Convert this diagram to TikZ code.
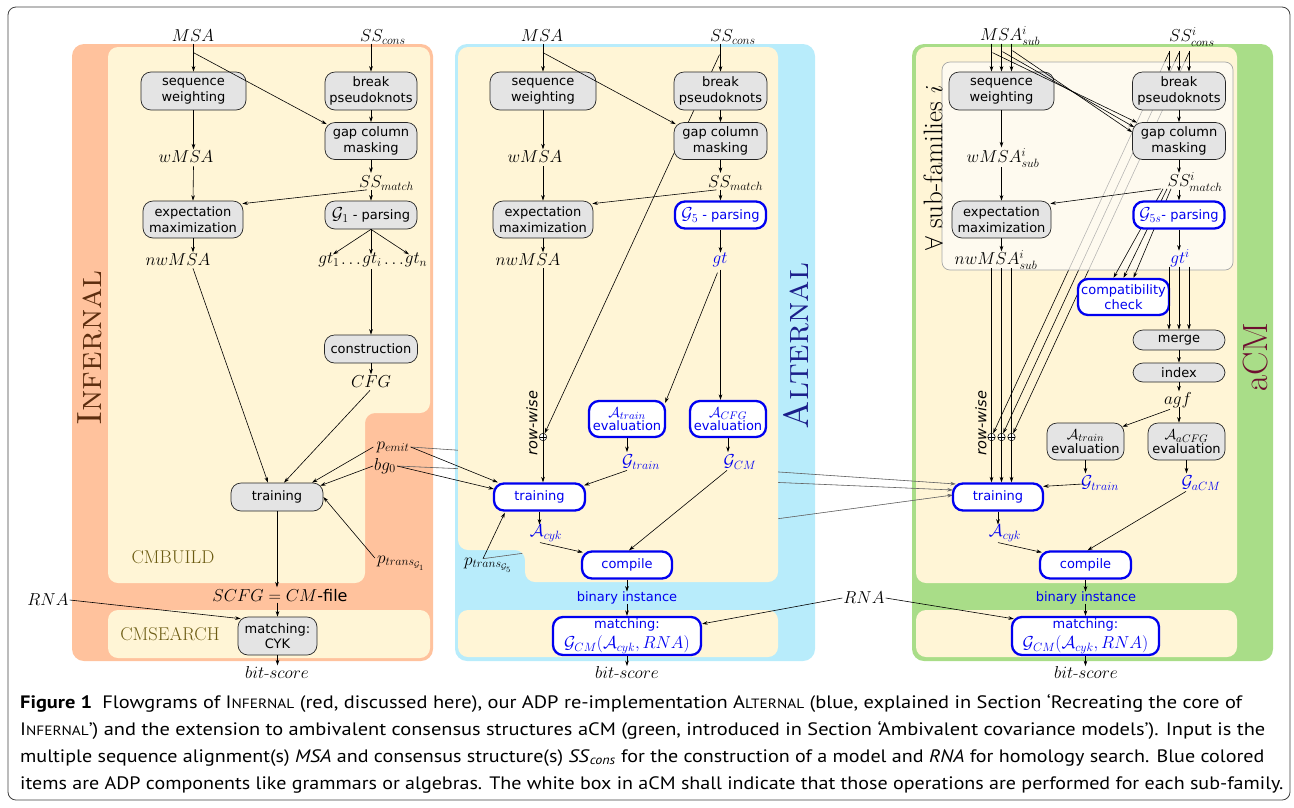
\documentclass[tikz,border=0pt]{standalone}
\usepackage{fontspec}
\usepackage{graphicx}
\usetikzlibrary{arrows.meta,calc}
\newfontfamily\boxfont{DejaVu Sans}
\newfontfamily\capfont{PT Sans}
\definecolor{orangeP}{HTML}{FFC29D}
\definecolor{creamC}{HTML}{FFF5D6}
\definecolor{blueP}{HTML}{B8ECFB}
\definecolor{greenP}{HTML}{A9DD88}
\definecolor{blueC}{HTML}{0000F0}
\definecolor{infC}{HTML}{5C2D0E}
\definecolor{altC}{HTML}{1B1E8A}
\definecolor{acmC}{HTML}{6E0F30}
\definecolor{cmC}{HTML}{6B5B12}
\definecolor{nodeG}{HTML}{E4E4E4}
\definecolor{wboxC}{HTML}{FEFDFA}
\pgfdeclarelayer{back}
\pgfdeclarelayer{lines}
\pgfdeclarelayer{cream}
\pgfdeclarelayer{under}
\pgfdeclarelayer{wbox}
\pgfdeclarelayer{undertwo}
\pgfsetlayers{back,lines,cream,under,wbox,undertwo,main}
\newcommand\bxf{\boxfont\fontsize{13}{15.5}\selectfont}
\newcommand\mlf{\fontsize{17}{20}\selectfont}
\newcommand\boxmath[1]{{\fontsize{16.5}{16}\selectfont$#1$}}
\newcommand\evmath[1]{{\fontsize{15}{15}\selectfont$#1$}}
\newcommand\capsc[2]{#1{\fontsize{13.5}{16}\selectfont #2}}
\begin{document}
\begin{tikzpicture}[x=1pt,y=-1pt,
  gbox/.style={draw=black!85, fill=nodeG, rounded corners=10pt, line width=0.7pt, font=\bxf, align=center, inner sep=1pt},
  bbox/.style={draw=blueC, fill=white, text=blueC, rounded corners=10pt, line width=2.3pt, font=\bxf, align=center, inner sep=1pt},
  lbl/.style={font=\mlf, inner sep=1pt},
  blbl/.style={lbl, text=blueC},
  arr/.style={-{Stealth[length=5.5pt,width=3.6pt]}, line width=0.6pt},
  glong/.style={arr, draw=black!60, fill=black!60},
  oplus/.style={circle, draw, fill=white, inner sep=0pt, minimum size=7.5pt, line width=0.5pt,
    path picture={\draw[line width=0.5pt] (path picture bounding box.north) -- (path picture bounding box.south) (path picture bounding box.west) -- (path picture bounding box.east);}},
  rwise/.style={rotate=90, font=\boxfont\itshape\fontsize{14.5}{16}\selectfont},
  panelname/.style={rotate=90, font=\fontsize{35}{40}\selectfont, inner sep=0pt},
  cmname/.style={font=\fontsize{18.5}{20}\selectfont, text=cmC},
  binst/.style={font=\bxf, text=blueC, inner sep=1pt},
  capline/.style={anchor=base west, inner sep=0pt, font=\capfont\fontsize{18}{20}\selectfont}
]
\useasboundingbox (0,0) rectangle (1294,807);

% ================= NODES =================
% ---- INFERNAL
\node[lbl] (L-msa) at (193,36) {$MSA$};
\node[lbl,anchor=west] (L-ssc) at (359,37) {$SS_{cons}$};
\node[gbox,minimum width=105pt,minimum height=38pt] (L-sw) at (193.5,91) {sequence\\weighting};
\node[gbox,minimum width=92pt,minimum height=38pt] (L-bp) at (371,91) {break\\pseudoknots};
\node[gbox,minimum width=92pt,minimum height=37pt] (L-gc) at (371,141) {gap column\\masking};
\node[lbl] (L-wmsa) at (186,157) {$wMSA$};
\node[lbl,anchor=west] (L-ssm) at (358,183) {$SS_{match}$};
\node[gbox,minimum width=100pt,minimum height=37pt] (L-em) at (193,219.5) {expectation\\maximization};
\node[gbox,minimum width=92pt,minimum height=28pt] (L-g1) at (371,215) {\boxmath{\mathcal{G}_1} - parsing};
\node[lbl] (L-nw) at (178,260) {$nwMSA$};
\node[lbl] (L-gt1) at (329,260) {$gt_1$};
\node[lbl] (L-d1) at (351,264) {$\ldots$};
\node[lbl] (L-gti) at (372,260) {$gt_i$};
\node[lbl] (L-d2) at (394,264) {$\ldots$};
\node[lbl] (L-gtn) at (416,260) {$gt_n$};
\node[gbox,minimum width=93pt,minimum height=28pt] (L-con) at (371,349) {construction};
\node[lbl] (L-cfg) at (371,382) {$CFG$};
\node[gbox,minimum width=92pt,minimum height=28pt] (L-tr) at (277,497) {training};
\node[lbl] (L-pe) at (393,447) {$p_{emit}$};
\node[lbl] (L-bg) at (385,466) {$bg_0$};
\node[lbl] (L-pt) at (401,563) {$p_{trans_{\mathcal{G}_1}}$};
\node[lbl] (L-scfg) at (280,596) {$SCFG=CM${\boxfont\fontsize{16}{18}\selectfont -file}};
\node[gbox,minimum width=79pt,minimum height=38pt] (L-cyk) at (277.5,636) {matching:\\CYK};
\node[lbl] (L-bs) at (277,672) {$bit$-$score$};
\node[lbl] (L-rna) at (48,600) {$RNA$};
\node[panelname, text=infC] (L-name) at (90,348) {\textsc{Infernal}};
\node[cmname] (L-cmb) at (173,557) {CMBUILD};
\node[cmname] (L-cms) at (170,634) {CMSEARCH};

% ---- ALTERNAL
\node[lbl] (M-msa) at (542,36) {$MSA$};
\node[lbl,anchor=west] (M-ssc) at (709,37) {$SS_{cons}$};
\node[gbox,minimum width=106pt,minimum height=38pt] (M-sw) at (543,91) {sequence\\weighting};
\node[gbox,minimum width=93pt,minimum height=38pt] (M-bp) at (720.5,91) {break\\pseudoknots};
\node[gbox,minimum width=93pt,minimum height=37pt] (M-gc) at (720.5,141) {gap column\\masking};
\node[lbl] (M-wmsa) at (535,157) {$wMSA$};
\node[lbl,anchor=west] (M-ssm) at (707,183) {$SS_{match}$};
\node[gbox,minimum width=100pt,minimum height=37pt] (M-em) at (543,219.5) {expectation\\maximization};
\node[bbox,minimum width=91pt,minimum height=27pt] (M-g5) at (720.5,215) {\boxmath{\mathcal{G}_5} - parsing};
\node[lbl] (M-nw) at (528,260) {$nwMSA$};
\node[blbl] (M-gt) at (720,260) {$gt$};
\node[bbox,minimum width=76pt,minimum height=36pt] (M-ate) at (627,419) {\evmath{\mathcal{A}_{train}}\\[-2pt]evaluation};
\node[bbox,minimum width=76pt,minimum height=36pt] (M-ace) at (728,419) {\evmath{\mathcal{A}_{CFG}}\\[-2pt]evaluation};
\node[blbl] (M-gtr) at (641,462) {$\mathcal{G}_{train}$};
\node[blbl] (M-gcm) at (740,462) {$\mathcal{G}_{CM}$};
\node[bbox,minimum width=91pt,minimum height=27pt] (M-tr) at (539.5,497) {training};
\node[blbl] (M-acyk) at (546,533) {$\mathcal{A}_{cyk}$};
\node[bbox,minimum width=90pt,minimum height=27pt] (M-comp) at (627,565) {compile};
\node[binst] (M-bin) at (627,598) {binary instance};
\node[bbox,minimum width=148pt,minimum height=38pt] (M-match) at (627,636) {matching:\\[4pt]\boxmath{\mathcal{G}_{CM}(\mathcal{A}_{cyk},RNA)}};
\node[lbl] (M-bs) at (627,672) {$bit$-$score$};
\node[oplus] (M-op) at (543,437) {};
\node[rwise] (M-rw) at (532,423) {row-wise};
\node[lbl] (M-pt) at (488,565) {$p_{trans_{\mathcal{G}_5}}$};
\node[lbl] (RNA2) at (864,598) {$RNA$};
\node[panelname, text=altC] (M-name) at (796,346) {\textsc{Alternal}};

% ---- aCM
\node[lbl] (R-msa) at (1010,36) {$MSA^i_{sub}$};
\node[lbl] (R-ssc) at (1192,37) {$SS^i_{cons}$};
\node[gbox,minimum width=105pt,minimum height=38pt] (R-sw) at (1001.5,91) {sequence\\weighting};
\node[gbox,minimum width=93pt,minimum height=38pt] (R-bp) at (1179,91) {break\\pseudoknots};
\node[gbox,minimum width=93pt,minimum height=37pt] (R-gc) at (1179,141) {gap column\\masking};
\node[lbl] (R-wmsa) at (1003,158) {$wMSA^i_{sub}$};
\node[lbl] (R-ssm) at (1195,182) {$SS^i_{match}$};
\node[gbox,minimum width=99pt,minimum height=37pt] (R-em) at (1001.5,219.5) {expectation\\maximization};
\node[bbox,minimum width=91pt,minimum height=27pt] (R-g5) at (1179,215) {\boxmath{\mathcal{G}_{5s}}- parsing};
\node[lbl] (R-nw) at (996,260) {$nwMSA^i_{sub}$};
\node[blbl] (R-gt) at (1180,258) {$gt^i$};
\node[bbox,minimum width=91pt,minimum height=36pt] (R-cc) at (1123.5,297) {compatibility\\check};
\node[gbox,minimum width=92pt,minimum height=20pt] (R-merge) at (1179,340) {merge};
\node[gbox,minimum width=92pt,minimum height=19pt] (R-index) at (1179,372.5) {index};
\node[lbl] (R-agf) at (1178,400) {$agf$};
\node[gbox,minimum width=77pt,minimum height=37pt] (R-ate) at (1085.5,441.5) {\evmath{\mathcal{A}_{train}}\\[-2pt]evaluation};
\node[gbox,minimum width=77pt,minimum height=37pt] (R-ace) at (1186.5,441.5) {\evmath{\mathcal{A}_{aCFG}}\\[-2pt]evaluation};
\node[blbl] (R-gtr) at (1100,483) {$\mathcal{G}_{train}$};
\node[blbl] (R-gacm) at (1201,483) {$\mathcal{G}_{aCM}$};
\node[bbox,minimum width=90pt,minimum height=27pt] (R-tr) at (998,497) {training};
\node[blbl] (R-acyk) at (1005,533) {$\mathcal{A}_{cyk}$};
\node[bbox,minimum width=91pt,minimum height=27pt] (R-comp) at (1085.5,565) {compile};
\node[binst] (R-bin) at (1086,598) {binary instance};
\node[bbox,minimum width=147pt,minimum height=38pt] (R-match) at (1085.5,636) {matching:\\[4pt]\boxmath{\mathcal{G}_{CM}(\mathcal{A}_{cyk},RNA)}};
\node[lbl] (R-bs) at (1086,672) {$bit$-$score$};
\node[oplus] (R-op1) at (991.5,437) {};
\node[oplus] (R-op2) at (1001.5,437) {};
\node[oplus] (R-op3) at (1011.5,437) {};
\node[rwise] (R-rw) at (981,423) {row-wise};
\node[panelname, text=acmC] (R-name) at (1256,357) {aCM};
\node[rotate=90, font=\fontsize{27}{30}\selectfont, inner sep=0pt] (R-all) at (933,168) {$\forall$ sub-families $i$};

% ---- caption
\node[capline] (cap1) at (20,708) {\resizebox{1222pt}{\height}{\textbf{Figure 1}\enspace Flowgrams of \capsc{I}{NFERNAL} (red, discussed here), our ADP re-implementation \capsc{A}{LTERNAL} (blue, explained in Section ‘Recreating the core of}};
\node[capline] (cap2) at (20,735) {\resizebox{1245pt}{\height}{\capsc{I}{NFERNAL}’) and the extension to ambivalent consensus structures aCM (green, introduced in Section ‘Ambivalent covariance models’). Input is the}};
\node[capline] (cap3) at (20,762) {\resizebox{1244pt}{\height}{multiple sequence alignment(s) \textit{MSA} and consensus structure(s) \textit{SS}\textsubscript{\textit{cons}} for the construction of a model and \textit{RNA} for homology search. Blue colored}};
\node[capline] (cap4) at (20,789) {\resizebox{1263pt}{\height}{items are ADP components like grammars or algebras. The white box in aCM shall indicate that those operations are performed for each sub-family.}};

% ================= BACKGROUND =================
\begin{pgfonlayer}{back}
\draw[black!75, line width=0.8pt, rounded corners=8pt] (8,7) rectangle (1290,800);
\fill[orangeP, rounded corners=12pt] (72,44) rectangle (433,661);
\fill[blueP, rounded corners=12pt] (455,44) rectangle (815,661);
\fill[greenP, rounded corners=12pt] (912,44) rectangle (1273,661);
\fill[creamC, rounded corners=10pt] (108,47) -- (430,47) -- (430,413) -- (365,413) -- (365,583) -- (108,583) -- cycle;
\fill[creamC, rounded corners=10pt] (108,610) rectangle (430,658);
\fill[creamC, rounded corners=10pt] (458,610) rectangle (778,657);
\fill[creamC, rounded corners=10pt] (916,47) rectangle (1237,583);
\fill[creamC, rounded corners=10pt] (916,610) rectangle (1237,657);
\end{pgfonlayer}

\begin{pgfonlayer}{lines}
\draw[glong] (L-pe.east) -- ($(R-tr.west)+(4,-13)$);
\draw[glong] (L-bg.east) -- ($(R-tr.west)+(1,-7)$);
\draw[glong] ($(M-pt.north)+(-5,2)$) -- ($(R-tr.west)+(1,-2)$);
\end{pgfonlayer}

\begin{pgfonlayer}{cream}
\fill[creamC, rounded corners=10pt] (458,47) -- (778,47) -- (778,582) -- (525,582) -- (525,550) -- (458,550) -- cycle;
\end{pgfonlayer}

\begin{pgfonlayer}{under}
\draw[arr] ($(M-bp.north)+(-1,-17)$) -- (M-op);
\draw[arr] ($(R-bp.north)+(-10,-19)$) -- (R-op1);
\draw[arr] ($(R-bp.north)+(0,-19)$) -- (R-op2);
\draw[arr] ($(R-bp.north)+(10,-19)$) -- (R-op3);
\end{pgfonlayer}

\begin{pgfonlayer}{wbox}
\filldraw[fill=wboxC, fill opacity=0.72, draw=black!35, line width=0.7pt, rounded corners=8pt] (942,62) rectangle (1233,270);
\end{pgfonlayer}

\begin{pgfonlayer}{undertwo}
\draw[arr] ($(R-gc.south)+(-16,29)$) -- ($(R-cc.north)+(-10,0)$);
\draw[arr] ($(R-gc.south)+(-12,29)$) -- (R-cc.north);
\draw[arr] ($(R-gc.south)+(-8,29)$) -- ($(R-cc.north)+(10,0)$);
\end{pgfonlayer}

% ================= EDGES: INFERNAL =================
\draw[arr] ($(L-sw.north)+(0,-28)$) -- (L-sw.north);
\draw[arr] ($(L-sw.north)+(0,-19)$) -- ($(L-gc.north west)+(2,2)$);
\draw[arr] ($(L-bp.north)+(0,-28)$) -- (L-bp.north);
\draw[arr] (L-bp.south) -- (L-gc.north);
\draw[arr] (L-sw.south) -- ($(L-sw.south)+(0,39)$);
\draw[arr] (L-gc.south) -- ($(L-gc.south)+(0,13)$);
\draw[arr] ($(L-sw.south)+(0,56)$) -- (L-em.north);
\draw[arr] ($(L-gc.south)+(-4,30)$) -- ($(L-em.north east)+(-1,3)$);
\draw[arr] ($(L-gc.south)+(0,30)$) -- (L-g1.north);
\draw[arr] (L-em.south) -- ($(L-em.south)+(0,14)$);
\draw[arr] (L-g1.south) -- ($(L-g1.south)+(-38,25)$);
\draw[arr] (L-g1.south) -- ($(L-g1.south)+(0,25)$);
\draw[arr] (L-g1.south) -- ($(L-g1.south)+(38,25)$);
\draw[arr] ($(L-g1.south)+(0,40)$) -- (L-con.north);
\draw[arr] (L-con.south) -- ($(L-con.south)+(0,11)$);
\draw[arr] ($(L-em.south)+(0,30)$) -- ($(L-tr.north)+(-9,0)$);
\draw[arr] ($(L-con.south)+(-1,27)$) -- ($(L-tr.north)+(7,0)$);
\draw[arr] ($(L-pe.west)+(-2,0)$) -- ($(L-tr.north)+(35,0)$);
\draw[arr] (L-bg.west) -- ($(L-tr.north east)+(-3,3)$);
\draw[arr] ($(L-pt.west)+(-1,-5)$) -- (L-tr.east);
\draw[arr] (L-tr.south) -- ($(L-tr.south)+(0,76)$);
\draw[arr] ($(L-cyk.north)+(0,-14)$) -- (L-cyk.north);
\draw[arr] (L-rna.east) -- ($(L-cyk.north west)+(3,2)$);
\draw[arr] (L-cyk.south) -- ($(L-cyk.south)+(0,10)$);

% cross edges to ALTERNAL training
\draw[arr] (L-pe.east) -- ($(M-tr.north west)+(5,0)$);
\draw[arr] (L-bg.east) -- ($(M-tr.west)+(1,-8)$);

% ================= EDGES: ALTERNAL =================
\draw[arr] ($(M-sw.north)+(0,-28)$) -- (M-sw.north);
\draw[arr] ($(M-sw.north)+(0,-19)$) -- ($(M-gc.north west)+(2,2)$);
\draw[arr] ($(M-bp.north)+(0,-28)$) -- (M-bp.north);
\draw[arr] (M-bp.south) -- (M-gc.north);
\draw[arr] (M-sw.south) -- ($(M-sw.south)+(0,39)$);
\draw[arr] (M-gc.south) -- ($(M-gc.south)+(0,13)$);
\draw[arr] ($(M-sw.south)+(0,56)$) -- (M-em.north);
\draw[arr] ($(M-gc.south)+(-4,30)$) -- ($(M-em.north east)+(-1,3)$);
\draw[arr] ($(M-gc.south)+(0,30)$) -- (M-g5.north);
\draw[arr] (M-em.south) -- ($(M-em.south)+(0,14)$);
\draw[arr] ($(M-em.south)+(0,30)$) -- (M-em.south |- M-tr.north);
\draw[arr] (M-g5.south) -- ($(M-g5.south)+(0,23)$);
\draw[arr] ($(M-g5.south)+(-3,43)$) -- ($(M-ate.north east)+(-1,3)$);
\draw[arr] ($(M-g5.south)+(0,40)$) -- (M-g5.south |- M-ace.north);
\draw[arr] (M-ate.south) -- ($(M-ate.south)+(0,14)$);
\draw[arr] (M-ace.south) -- ($(M-ace.south)+(0,14)$);
\draw[arr] ($(M-gtr.south)+(-14,0)$) -- ($(M-tr.north east)+(-2,3)$);
\draw[arr] ($(M-gcm.south)+(-13,0)$) -- ($(M-comp.north)+(2,0)$);
\draw[arr] (M-tr.south) -- ($(M-tr.south)+(0,13)$);
\draw[arr] ($(M-acyk.south)+(-6,0)$) -- ($(M-comp.north west)+(2,2)$);
\draw[arr] (M-comp.south) -- ($(M-comp.south)+(0,12)$);
\draw[arr] ($(M-match.north)+(0,-12)$) -- (M-match.north);
\draw[arr] (M-match.south) -- ($(M-match.south)+(0,10)$);
\draw[arr] ($(M-pt.north)+(-5,2)$) -- ($(M-tr.south west)+(12,1)$);
\draw[arr] (RNA2.west) -- ($(M-match.north east)+(0,8)$);
\draw[arr] (RNA2.east) -- ($(R-match.north west)+(3,3)$);

% ================= EDGES: aCM =================
\foreach \dx in {-10,0,10} {
  \draw[arr] ($(R-sw.north)+(\dx,-28)$) -- ($(R-sw.north)+(\dx,0)$);
  \draw[arr] ($(R-bp.north)+(\dx,-21)$) -- ($(R-bp.north)+(\dx,0)$);
  \draw[arr] ($(R-em.south)+(\dx,30)$) -- ($(R-em.south)+(\dx,244)$);
  \draw[arr] ($(R-merge.north)+(\dx,-63)$) -- ($(R-merge.north)+(\dx,0)$);
}
\draw[arr] ($(R-sw.north)+(-9,-19)$) -- ($(R-gc.north west)+(5,0.5)$);
\draw[arr] ($(R-sw.north)+(1,-20)$) -- ($(R-gc.north west)+(2,5)$);
\draw[arr] ($(R-sw.north)+(11,-21)$) -- ($(R-gc.north west)+(0,10)$);
\draw[arr] (R-bp.south) -- (R-gc.north);
\draw[arr] (R-sw.south) -- ($(R-sw.south)+(0,37)$);
\draw[arr] (R-gc.south) -- ($(R-gc.south)+(0,13)$);
\draw[arr] ($(R-sw.south)+(0,57)$) -- (R-em.north);
\draw[arr] ($(R-gc.south)+(-18,29)$) -- ($(R-em.north east)+(-1,3)$);
\draw[arr] ($(R-gc.south)+(0,30)$) -- (R-g5.north);
\draw[arr] (R-em.south) -- ($(R-em.south)+(0,13)$);
\draw[arr] (R-g5.south) -- ($(R-g5.south)+(0,21)$);
\draw[arr] (R-merge.south) -- (R-index.north);
\draw[arr] (R-index.south) -- ($(R-index.south)+(0,9)$);
\draw[arr] ($(R-index.south)+(0,25)$) -- (R-index.south |- R-ace.north);
\draw[arr] ($(R-index.south)+(-9,27)$) -- ($(R-ate.north east)+(-2,4)$);
\draw[arr] (R-ate.south) -- ($(R-ate.south)+(0,13)$);
\draw[arr] (R-ace.south) -- ($(R-ace.south)+(0,13)$);
\draw[arr] ($(R-gtr.west)+(3,1)$) -- ($(R-tr.north east)+(-1,4)$);
\draw[arr] ($(R-gacm.south)+(-15,0)$) -- ($(R-comp.north)+(2,0)$);
\draw[arr] (R-tr.south) -- ($(R-tr.south)+(0,13)$);
\draw[arr] ($(R-acyk.south)+(-7,0)$) -- ($(R-comp.north west)+(3,2)$);
\draw[arr] (R-comp.south) -- ($(R-comp.south)+(0,12)$);
\draw[arr] ($(R-match.north)+(0,-12)$) -- (R-match.north);
\draw[arr] (R-match.south) -- ($(R-match.south)+(0,10)$);
\end{tikzpicture}
\end{document}
